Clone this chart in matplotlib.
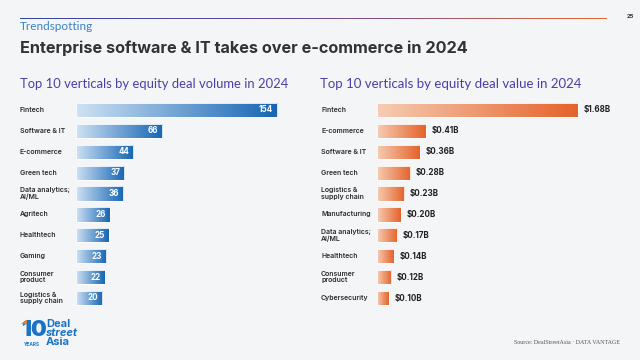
import numpy as np
import matplotlib
matplotlib.use("Agg")
import matplotlib.pyplot as plt
import matplotlib.transforms as mtransforms
from matplotlib.patches import Polygon

# ---------------- data ----------------
vol_categories = ["Fintech", "Software & IT", "E-commerce", "Green tech",
                  "Data analytics;\nAI/ML", "Agritech", "Healthtech", "Gaming",
                  "Consumer\nproduct", "Logistics &\nsupply chain"]
vol_values = [154, 66, 44, 37, 36, 26, 25, 23, 22, 20]

val_categories = ["Fintech", "E-commerce", "Software & IT", "Green tech",
                  "Logistics &\nsupply chain", "Manufacturing",
                  "Data analytics;\nAI/ML", "Healthtech", "Consumer\nproduct",
                  "Cybersecurity"]
val_values = [1.68, 0.41, 0.36, 0.28, 0.23, 0.20, 0.17, 0.14, 0.12, 0.10]
val_labels = ["$1.68B", "$0.41B", "$0.36B", "$0.28B", "$0.23B", "$0.20B",
              "$0.17B", "$0.14B", "$0.12B", "$0.10B"]

title = "Enterprise software & IT takes over e-commerce in 2024"
kicker = "Trendspotting"
left_title = "Top 10 verticals by equity deal volume in 2024"
right_title = "Top 10 verticals by equity deal value in 2024"
source = "Source: DealStreetAsia \u00b7 DATA VANTAGE"
page = "25"

# ---------------- style ----------------
BG = "#f4f5f7"
W, H = 640, 360
fig = plt.figure(figsize=(6.4, 3.6), dpi=100, facecolor=BG)

LABEL_FONT = dict(family="Inter", fontsize=5.0, fontweight="semibold", color="#2b2b2b")


def fx(px):
    return px / W


def fy(py):
    return 1 - py / H


def gradient_bars(ax, values, c0, c1):
    bars = ax.barh(range(len(values)), values, height=0.68, color="none",
                   edgecolor="white", linewidth=0.6, zorder=3)
    cmap = matplotlib.colors.LinearSegmentedColormap.from_list("g", [c0, c1])
    grad = np.linspace(0, 1, 256).reshape(1, -1)
    for b in bars:
        x0, y0 = b.get_x(), b.get_y()
        w, h = b.get_width(), b.get_height()
        im = ax.imshow(grad, cmap=cmap, aspect="auto",
                       extent=(x0, x0 + w, y0 + h, y0), zorder=2,
                       interpolation="bicubic")
        im.set_clip_path(b)
    return bars


def setup(ax, n):
    ax.set_facecolor("none")
    for s in ax.spines.values():
        s.set_visible(False)
    ax.set_xticks([])
    ax.set_yticks([])
    ax.set_ylim(n - 0.5, -0.5)


# ---------------- left chart ----------------
row0, rowN = 110, 298
step = (rowN - row0) / 9
ax_top = row0 - step / 2
ax_bot = rowN + step / 2
axL = fig.add_axes([fx(76), fy(ax_bot), fx(209), (ax_bot - ax_top) / H])
setup(axL, len(vol_values))
axL.set_xlim(0, 160)
gradient_bars(axL, vol_values, "#cfe2f4", "#1565b4")
for i, v in enumerate(vol_values):
    axL.annotate(str(v), xy=(v, i), xytext=(-3, 0), textcoords="offset points",
                 ha="right", va="center", color="white", fontsize=5.8,
                 fontweight="bold", family="Inter", zorder=5)
trL = mtransforms.blended_transform_factory(fig.transFigure, axL.transData)
for i, c in enumerate(vol_categories):
    axL.text(fx(20), i, c, transform=trL, ha="left", va="center",
             linespacing=1.15, **LABEL_FONT)

# ---------------- right chart ----------------
axR = fig.add_axes([fx(377), fy(ax_bot), fx(215), (ax_bot - ax_top) / H])
setup(axR, len(val_values))
axR.set_xlim(0, 1.8)
gradient_bars(axR, val_values, "#f6cdb3", "#e5622a")
for i, (v, lab) in enumerate(zip(val_values, val_labels)):
    axR.annotate(lab, xy=(v, i), xytext=(4, 0), textcoords="offset points",
                 ha="left", va="center", color="#222222", fontsize=5.8,
                 fontweight="bold", family="Inter", zorder=5)
trR = mtransforms.blended_transform_factory(fig.transFigure, axR.transData)
for i, c in enumerate(val_categories):
    axR.text(fx(321), i, c, transform=trR, ha="left", va="center",
             linespacing=1.15, **LABEL_FONT)

# ---------------- titles ----------------
fig.text(fx(20), fy(27), kicker, family="Lato", fontsize=8.5, color="#3b82c9",
         ha="left", va="center")
fig.text(fx(20), fy(48), title, family="Inter", fontsize=11.7, fontweight="bold",
         color="#333333", ha="left", va="center")
fig.text(fx(20), fy(84), left_title, family="Lato", fontsize=9.4,
         color="#4b3fa6", ha="left", va="center")
fig.text(fx(320), fy(84), right_title, family="Lato", fontsize=9.5,
         color="#4b3fa6", ha="left", va="center")
fig.text(fx(630), fy(17), page, family="Inter", fontsize=4.2, fontweight="bold",
         color="#333333", ha="center", va="center")
fig.text(fx(620), fy(343), source, family="Liberation Serif", fontsize=4.3,
         color="#555555", ha="right", va="center")

# top gradient line
axLine = fig.add_axes([fx(20), fy(19), fx(587), 1.5 / H])
axLine.axis("off")
cm_line = matplotlib.colors.LinearSegmentedColormap.from_list(
    "l", ["#3346a3", "#6a4a9a", "#e8692f"])
axLine.imshow(np.linspace(0, 1, 256).reshape(1, -1), cmap=cm_line,
              aspect="auto", extent=(0, 1, 0, 1))

# logo
LOGO_BLUE = "#1a73c5"
fig.text(fx(21), fy(330), "10", family="Inter", fontsize=16, fontweight="black",
         color=LOGO_BLUE, ha="left", va="center")
fig.patches.append(Polygon([(fx(21), fy(324)), (fx(27), fy(319.5)),
                            (fx(27), fy(324))], closed=True,
                           transform=fig.transFigure, facecolor="#ee7a2a",
                           edgecolor="none", zorder=5))
fig.text(fx(24), fy(344), "YEARS", family="Inter", fontsize=3.4,
         fontweight="bold", color=LOGO_BLUE, ha="left", va="center")
fig.text(fx(46), fy(324), "Deal", family="Inter", fontsize=8,
         fontweight="bold", color=LOGO_BLUE, ha="left", va="center")
fig.text(fx(46), fy(333), "street", family="Inter", fontsize=8,
         fontweight="bold", style="italic", color=LOGO_BLUE, ha="left",
         va="center")
fig.text(fx(46), fy(342), "Asia", family="Inter", fontsize=8,
         fontweight="bold", color=LOGO_BLUE, ha="left", va="center")

fig.savefig("out.png", dpi=100, facecolor=BG)
